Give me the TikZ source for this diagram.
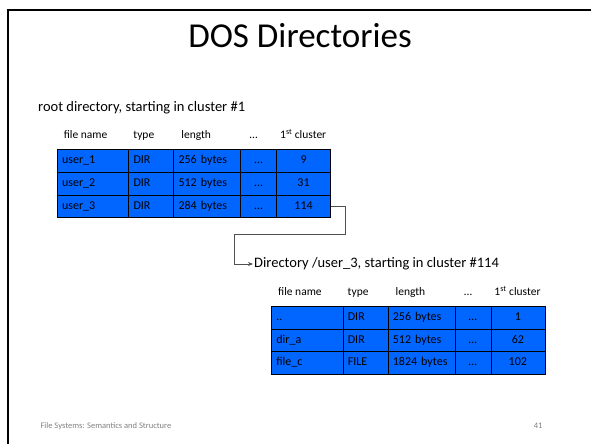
\documentclass[tikz,border=0pt]{standalone}
\usepackage{fontspec}
\setmainfont{Carlito}
\usetikzlibrary{arrows.meta}
\definecolor{dosblue}{RGB}{0,102,255}
\definecolor{footgray}{RGB}{128,128,128}
\definecolor{linkgray}{RGB}{80,80,80}
\tikzset{
	cell/.style={draw=black, line width=0.7pt, fill=dosblue, anchor=north west, text width=#1pt, inner xsep=5pt, inner ysep=0pt, minimum height=22.6pt, text height=8.5pt, text depth=2.5pt, font=\fontsize{12}{14}\selectfont},
	head/.style={inner sep=0pt, font=\fontsize{11.5}{14}\selectfont},
	caption/.style={inner sep=1pt, font=\fontsize{14.5}{17}\selectfont},
	link/.style={draw=linkgray, line width=0.8pt, -{Stealth[length=5pt,width=4pt]}},
}

\begin{document}
\begin{tikzpicture}[x=1pt, y=-1pt]
			%%%%% START %%%%%
			\useasboundingbox (0,0) rectangle (591,444);
			
			\draw[line width=2pt] (8,444) -- (8,10) -- (591,10);
			
			\node[font=\fontsize{35}{42}\selectfont, anchor=base] (title) at (300,47.5) {DOS Directories};
			
			\node[caption, anchor=base west] (rootcap) at (37,111) {root directory, starting in cluster \#1};
			
			% root directory table
			\begin{scope}[shift={(56.7,149.3)}]
			\foreach \hx/\htxt/\hanc [count=\i] in {7/file name/base west, 76.5/type/base west, 124.5/length/base west, 197/…/base, 246.5/1\textsuperscript{st} cluster/base}
				\node[head, anchor=\hanc] (roothead-\i) at (\hx,-10.5) {\htxt};
			\foreach \fname/\ftype/\flen/\fclus [count=\r from 0] in {user\_1/DIR/256 bytes/9, user\_2/DIR/512 bytes/31, user\_3/DIR/284 bytes/114} {
				\node[cell=61.5, align=left] (root-\r-1) at (0,22.6*\r) {\fname};
				\node[cell=35, align=left] (root-\r-2) at (71.5,22.6*\r) {\ftype};
				\node[cell=57, align=left] (root-\r-3) at (116.5,22.6*\r) {\flen};
				\node[cell=26, align=center] (root-\r-4) at (183.5,22.6*\r) {…};
				\node[cell=44, align=center] (root-\r-5) at (219.5,22.6*\r) {\fclus};
			}
			\end{scope}
			
			\node[caption, anchor=west] (subcap) at (253,264) {Directory /user\_3, starting in cluster \#114};
			
			\coordinate (jog) at (234,234.3);
			\draw[link] (root-2-5.east) -- ++(14,0) |- (jog) |- (subcap.west);
			
			% sub directory table
			\begin{scope}[shift={(271,306)}]
			\foreach \hx/\htxt/\hanc [count=\i] in {7/file name/base west, 76.5/type/base west, 124.5/length/base west, 197/…/base, 246.5/1\textsuperscript{st} cluster/base}
				\node[head, anchor=\hanc] (subhead-\i) at (\hx,-10.5) {\htxt};
			\foreach \fname/\ftype/\flen/\fclus [count=\r from 0] in {../DIR/256 bytes/1, dir\_a/DIR/512 bytes/62, file\_c/FILE/1824 bytes/102} {
				\node[cell=61.5, align=left] (sub-\r-1) at (0,22.6*\r) {\fname};
				\node[cell=35, align=left] (sub-\r-2) at (71.5,22.6*\r) {\ftype};
				\node[cell=57, align=left] (sub-\r-3) at (116.5,22.6*\r) {\flen};
				\node[cell=26, align=center] (sub-\r-4) at (183.5,22.6*\r) {…};
				\node[cell=44, align=center] (sub-\r-5) at (219.5,22.6*\r) {\fclus};
			}
			\end{scope}
			
			\node[anchor=base west, text=footgray, font=\fontsize{8.5}{10}\selectfont] (foot) at (37,428) {File Systems: Semantics and Structure};
			\node[anchor=base east, text=footgray, font=\fontsize{8.5}{10}\selectfont] (page) at (546,428) {41};
			
			%%%%% END %%%%%
\end{tikzpicture}
\end{document}
